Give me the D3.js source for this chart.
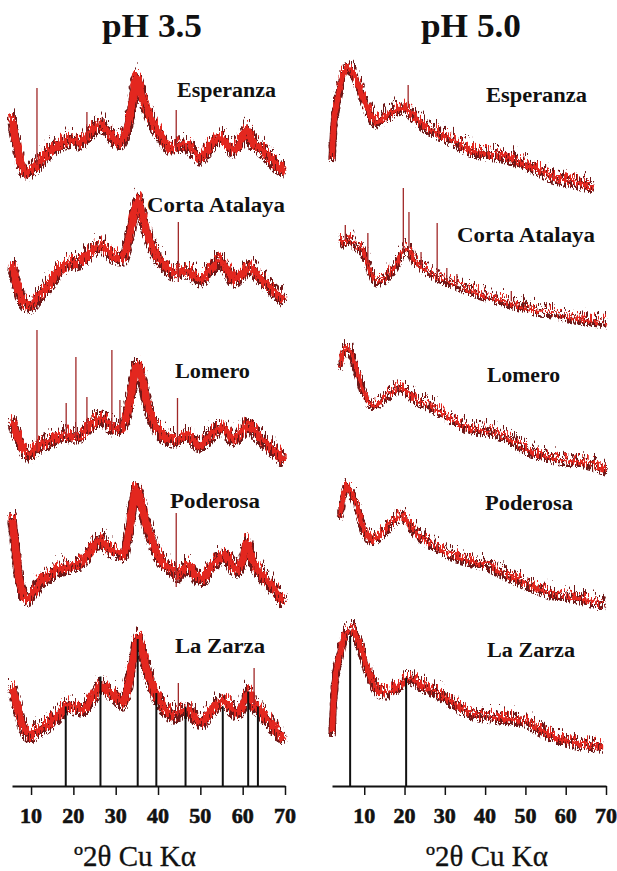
<!DOCTYPE html>
<html>
<head>
<meta charset="utf-8">
<script src="https://cdn.jsdelivr.net/npm/d3@7"></script>
<style>
  html, body { margin: 0; padding: 0; background: #fff; }
  svg { display: block; }
  .lbl { font-family: "Liberation Serif", "Times New Roman", serif; font-weight: bold; fill: #111; }
</style>
</head>
<body>
<svg id="chart" width="617" height="871"></svg>
<script>
// ---- Diffractograms, degrees 2-theta vs counts (arbitrary units) ----
const ticks2theta = [10, 20, 30, 40, 50, 60, 70];
const samples = ["Esperanza", "Corta Atalaya", "Lomero", "Poderosa", "La Zarza"];
const panelTitles = ["pH 3.5", "pH 5.0"];
const axisTitle = "º2θ Cu Kα";

// pH 3.5
const ph35Esperanza = [[5.4,640],[6.5,400],[7.5,200],[9,100],[10.5,140],[12,200],[14.5,320],[16.5,380],[18.5,420],[20,430],[21.6,400],[23.5,480],[26.3,580],[28.5,500],[30.6,400],[32.2,480],[33.8,750],[35,1060],[36,900],[37.4,730],[39,580],[40.5,480],[43.6,340],[45,380],[46.9,370],[50,250],[52.5,380],[54.7,450],[57.8,330],[60,450],[61,540],[62.3,400],[63.4,370],[65.8,280],[68.4,160],[70,120]];
const ph35Corta = [[5.5,580],[6.5,400],[8,220],[9.7,170],[11.5,250],[14.5,400],[16.5,520],[18.5,580],[20.5,600],[22.3,630],[24.5,720],[26.3,770],[28,720],[29.4,670],[31.7,650],[33.5,920],[35.3,1220],[36.3,1070],[37.4,900],[39,720],[40.5,620],[42,550],[43.6,500],[45.5,520],[46.9,520],[50,430],[52.5,540],[54.7,620],[56.5,520],[57.8,430],[60,500],[61.8,560],[63.5,480],[65.8,380],[68,300],[69.8,230]];
const ph35Lomero = [[5.5,420],[6.5,300],[8,150],[9.7,80],[11,140],[12.5,180],[14.5,220],[16.5,250],[18,280],[20,270],[21.6,280],[23.5,350],[26.3,440],[28,400],[29.5,340],[31.5,360],[33.5,650],[35,980],[36,880],[37.4,600],[39,400],[40.5,300],[42.5,240],[44,230],[46.9,270],[50,180],[52.5,280],[55.4,350],[57.8,240],[60,320],[61.3,380],[63,300],[65.8,180],[68,100],[69.8,20]];
const ph35Poderosa = [[5.5,950],[6.2,700],[7,400],[8,200],[9,140],[10.5,200],[12.5,320],[14.5,380],[16.5,440],[18.5,460],[21.6,500],[24,620],[26.3,730],[28,650],[29.4,620],[31.7,580],[33.3,850],[34.8,1240],[35.8,1120],[37.4,870],[39,670],[40.5,540],[43.4,430],[44.7,380],[46.9,470],[50,330],[53,480],[55.4,570],[58.6,430],[60.3,580],[61,700],[62,550],[64.1,400],[66.5,280],[68.9,150],[69.8,100]];
const ph35LaZarza = [[5.5,660],[6.5,500],[8,280],[9.7,170],[11.5,220],[14.5,300],[16.5,380],[18.5,470],[20.5,450],[22.3,440],[24.5,550],[26.7,680],[28.3,620],[29.9,570],[31.7,500],[33.5,780],[35.3,1140],[36.2,1020],[37.4,830],[39,620],[40.5,500],[42,420],[43.6,370],[45,400],[46.9,430],[50,300],[52.5,420],[55.4,520],[58.6,400],[60.2,500],[61.3,600],[62.5,480],[63.5,450],[65.8,330],[68,220],[69.8,130]];

// sharp reflections: [2theta, low counts, high counts]
const ph35EsperanzaPeaks = [[11.4,150,920],[23.2,400,680],[44.3,300,700]];
const ph35CortaPeaks = [[44.8,380,980]];
const ph35LomeroPeaks = [[11.4,80,1300],[18.3,230,570],[20.6,230,1030],[23.2,300,630],[29.1,300,1100],[31,310,600],[44.6,200,620]];
const ph35PoderosaPeaks = [[44.3,230,970]];
const ph35LaZarzaPeaks = [[44.8,350,670],[62.7,450,820]];

// pH 5.0
const ph50Esperanza = [[2.0,350],[2.5,700],[3.2,900],[4.0,1050],[4.7,1170],[5.5,1230],[6.5,1240],[7.5,1180],[9,1030],[10.5,870],[11.5,780],[12.7,710],[14,730],[15.7,770],[17.5,820],[19,850],[20.5,840],[22,780],[24,700],[28.2,600],[32.1,520],[36.3,430],[40.5,390],[44.5,370],[48.7,310],[52.9,240],[56.8,160],[61,120],[64,90],[67,65]];
const ph50Corta = [[4.0,950],[5,900],[6,940],[7.2,900],[8.2,870],[9,850],[10,780],[11.5,620],[12.5,540],[13.2,520],[14.5,530],[15.7,570],[17,630],[18.2,700],[19.4,800],[20.3,850],[21.5,800],[22.2,740],[24,670],[26.4,600],[28.9,550],[32.1,500],[36.3,430],[40.5,370],[44.5,320],[48.7,270],[52.5,230],[56.8,200],[61,160],[65.3,130],[70.2,100]];
const ph50Lomero = [[4.0,1070],[4.8,1200],[5.7,1250],[6.5,1220],[7.2,1130],[8.5,970],[9.7,820],[11,720],[12.2,680],[14,720],[15.7,770],[17.5,830],[19,850],[20.5,820],[22.2,750],[26.4,670],[32.1,530],[36.3,440],[40.5,420],[44.5,370],[48.7,270],[52.9,190],[56.8,150],[61,120],[65.3,100],[70.2,30]];
const ph50Poderosa = [[4.0,970],[4.8,1150],[5.7,1270],[6.8,1200],[8.2,1070],[9.7,850],[11,760],[12,730],[13.5,770],[15.7,850],[17.5,930],[19,970],[20.5,930],[22.2,830],[26.4,700],[32.1,580],[36.3,520],[40.5,480],[44.5,400],[48.7,320],[52.9,250],[56.8,190],[61,170],[65.3,130],[69.8,70]];
const ph50LaZarza = [[2.0,200],[2.4,500],[2.8,730],[4.0,1000],[5.2,1170],[6.2,1220],[7.0,1230],[8.5,1120],[10.7,850],[12.7,660],[14,610],[15.7,600],[17.5,640],[19,690],[20.5,730],[21.5,740],[24,680],[28.2,600],[32.1,500],[36.3,400],[40.5,370],[44.5,350],[48.7,330],[50,320],[52.9,250],[56.8,170],[61,120],[65.3,80],[69.3,70]];

const ph50EsperanzaPeaks = [[20.9,820,1050]];
const ph50CortaPeaks = [[5.3,900,1050],[10.9,670,970],[19.7,780,1420],[21.1,820,1180],[24.1,650,780],[28.1,530,1070],[30.5,480,620],[33,460,560],[46.5,290,390]];
const ph50LomeroPeaks = [];
const ph50PoderosaPeaks = [];
const ph50LaZarzaPeaks = [];

// reference pattern lines: [2theta, relative intensity]
const refLinesPh35 = [[18.2,53],[26.4,73],[35.2,98],[39.6,62],[46.5,53],[55.3,53],[61.3,63],[63.6,53]];
const refLinesPh50 = [[6.5,100],[20.4,72]];

// ---- layout ----
const W = 617, H = 871;
const axisY = 786;
const svg = d3.select("#chart");
svg.append("rect").attr("width", W).attr("height", H).attr("fill", "#fff");

// jagged counting-noise texture on the traces
const defs = svg.append("defs");
function noiseFilter(id, seed, freq, scale) {
  const f = defs.append("filter").attr("id", id)
    .attr("filterUnits", "userSpaceOnUse")
    .attr("x", 0).attr("y", 0).attr("width", W).attr("height", H)
    .attr("color-interpolation-filters", "sRGB");
  f.append("feTurbulence").attr("type", "turbulence")
    .attr("baseFrequency", freq).attr("numOctaves", 1).attr("seed", seed).attr("result", "t");
  f.append("feColorMatrix").attr("in", "t").attr("type", "matrix")
    .attr("values", "0 0 0 0 0.5  0 2.2 0 0 -0.12  0 0 0 0 0  0 0 0 0 1").attr("result", "m");
  f.append("feDisplacementMap").attr("in", "SourceGraphic").attr("in2", "m")
    .attr("scale", scale).attr("xChannelSelector", "R").attr("yChannelSelector", "G");
}
noiseFilter("jitterDark", 7, "2.1 0.12", 14);
noiseFilter("jitterRed", 2, "1.7 0.1", 9);

const panels = [
  {
    title: panelTitles[0], titleX: 152,
    x: d3.scaleLinear().domain([5.5, 70]).range([12, 285]),
    traces: [ph35Esperanza, ph35Corta, ph35Lomero, ph35Poderosa, ph35LaZarza],
    peaks: [ph35EsperanzaPeaks, ph35CortaPeaks, ph35LomeroPeaks, ph35PoderosaPeaks, ph35LaZarzaPeaks],
    bases: [180, 320, 460, 610, 750],
    widths: [7.5, 7.5, 7.5, 7.5, 7.5],
    labels: [[177, 97, 99], [147, 212, 138], [175, 378, 75], [170, 508, 90], [175, 653, 90]],
    refs: refLinesPh35,
    axisTitleX: 135
  },
  {
    title: panelTitles[1], titleX: 471,
    x: d3.scaleLinear().domain([2, 70]).range([332, 606]),
    traces: [ph50Esperanza, ph50Corta, ph50Lomero, ph50Poderosa, ph50LaZarza],
    peaks: [ph50EsperanzaPeaks, ph50CortaPeaks, ph50LomeroPeaks, ph50PoderosaPeaks, ph50LaZarzaPeaks],
    bases: [190, 330, 470, 610, 750],
    widths: [5.5, 3.5, 4, 4.5, 5.5],
    labels: [[486, 102, 101], [457, 242, 138], [487, 382, 73], [485, 510, 88], [487, 657, 88]],
    refs: refLinesPh50,
    axisTitleX: 487
  }
];

const yRef = d3.scaleLinear().domain([0, 100]).range([axisY, axisY - 150]);

panels.forEach(p => {
  const g = svg.append("g");

  // panel heading
  g.append("text").attr("class", "lbl")
    .attr("x", p.titleX - 50).attr("y", 37)
    .attr("font-size", 33)
    .attr("textLength", 100)
    .attr("lengthAdjust", "spacingAndGlyphs")
    .text(p.title);

  p.traces.forEach((data, i) => {
    const y = d3.scaleLinear().domain([0, 1000]).range([p.bases[i], p.bases[i] - 100]);
    const line = d3.line().x(d => p.x(d[0])).y(d => y(d[1])).curve(d3.curveMonotoneX);
    const w = p.widths[i];

    g.append("path").datum(data)
      .attr("d", line)
      .attr("fill", "none")
      .attr("stroke", "#6e1818")
      .attr("stroke-width", w + 2)
      .attr("stroke-linejoin", "round")
      .attr("filter", "url(#jitterDark)");
    g.append("path").datum(data)
      .attr("d", line)
      .attr("fill", "none")
      .attr("stroke", "#e3271f")
      .attr("stroke-width", w)
      .attr("stroke-linejoin", "round")
      .attr("filter", "url(#jitterRed)");

    g.selectAll(null).data(p.peaks[i]).enter().append("line")
      .attr("x1", d => p.x(d[0])).attr("x2", d => p.x(d[0]))
      .attr("y1", d => y(d[1])).attr("y2", d => y(d[2]))
      .attr("stroke", "#a02828")
      .attr("stroke-width", 1.3);

    const [lx, ly, lw] = p.labels[i];
    g.append("text").attr("class", "lbl")
      .attr("x", lx).attr("y", ly)
      .attr("font-size", 20)
      .attr("textLength", lw)
      .attr("lengthAdjust", "spacingAndGlyphs")
      .text(samples[i]);
  });

  // reference line pattern
  g.selectAll(null).data(p.refs).enter().append("line")
    .attr("x1", d => p.x(d[0])).attr("x2", d => p.x(d[0]))
    .attr("y1", axisY).attr("y2", d => yRef(d[1]))
    .attr("stroke", "#111")
    .attr("stroke-width", 2);

  // 2-theta axis (tick marks from d3, labels set in bold serif)
  const axis = d3.axisBottom(p.x).tickValues(ticks2theta)
    .tickSize(9).tickSizeOuter(0).tickFormat("");
  const ag = g.append("g").attr("transform", `translate(0,${axisY})`).call(axis);
  ag.select(".domain").attr("stroke", "#111").attr("stroke-width", 2);
  ag.selectAll(".tick line").attr("stroke", "#111").attr("stroke-width", 1.5);

  g.selectAll(null).data(ticks2theta).enter().append("text")
    .attr("class", "lbl")
    .attr("x", d => p.x(d)).attr("y", 823)
    .attr("text-anchor", "middle")
    .attr("font-size", 22)
    .attr("stroke", "#111")
    .attr("stroke-width", 0.6)
    .text(d => d);

  g.append("text")
    .attr("x", p.axisTitleX).attr("y", 866)
    .attr("text-anchor", "middle")
    .attr("font-family", "Liberation Serif, Times New Roman, serif")
    .attr("font-size", 29)
    .attr("fill", "#111")
    .attr("stroke", "#111")
    .attr("stroke-width", 0.3)
    .text(axisTitle);
});
</script>
</body>
</html>
